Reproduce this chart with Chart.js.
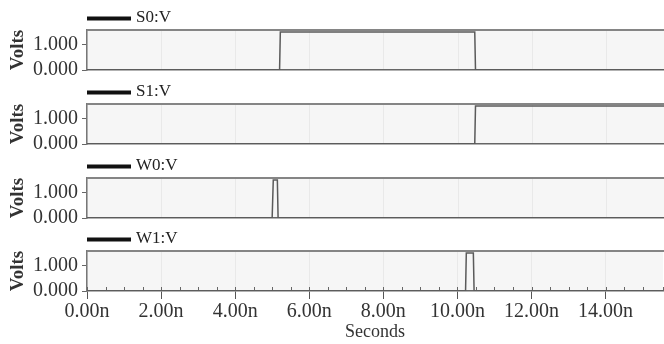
<!DOCTYPE html>
<html>
<head>
<meta charset="utf-8">
<script src="https://cdn.jsdelivr.net/npm/chart.js@4.4.1/dist/chart.umd.min.js"></script>
<style>
  html, body { margin: 0; padding: 0; background: #fff; overflow: hidden; width: 664px; height: 344px; }
  .panel { position: absolute; left: 0; }
</style>
</head>
<body>
<canvas class="panel" id="p0" width="664" height="86" style="top:0px"></canvas>
<canvas class="panel" id="p1" width="664" height="86" style="top:74px"></canvas>
<canvas class="panel" id="p2" width="664" height="86" style="top:148px"></canvas>
<canvas class="panel" id="p3" width="664" height="123" style="top:221px"></canvas>
<script>
// signal names (one panel each)
const seriesNames = ['S0:V', 'S1:V', 'W0:V', 'W1:V'];

// time points in ns, and voltage at each point
const s0Time  = [0, 5.19, 5.21, 10.45, 10.47, 15.6];
const s0Volts = [0, 0,    1.5,  1.5,   0,     0];

const s1Time  = [0, 10.45, 10.47, 15.6];
const s1Volts = [0, 0,     1.5,   1.5];

const w0Time  = [0, 4.99, 5.02, 5.13, 5.15, 15.6];
const w0Volts = [0, 0,    1.5,  1.5,  0,    0];

const w1Time  = [0, 10.22, 10.24, 10.43, 10.45, 15.6];
const w1Volts = [0, 0,     1.5,   1.5,   0,     0];

const voltTicks = [0, 0.5, 1];
const voltLabels = ['0.000', '', '1.000'];
const timeMax = 15.55;
const voltMax = 1.58;

const serif = 'Liberation Serif';

const isMajor = v => Math.abs(v / 2 - Math.round(v / 2)) < 1e-6;

// plot background, top border, small ticks and the legend line
const panelPlugin = {
  id: 'panel',
  beforeDraw(chart) {
    const a = chart.chartArea, ctx = chart.ctx;
    ctx.save();
    ctx.fillStyle = '#f6f6f6';
    ctx.fillRect(a.left, a.top, a.right - a.left, a.bottom - a.top);
    ctx.restore();
  },
  beforeDatasetsDraw(chart) {
    const a = chart.chartArea, ctx = chart.ctx;
    ctx.save();
    ctx.strokeStyle = '#858585';
    ctx.lineWidth = 2;
    ctx.beginPath();
    ctx.moveTo(a.left, a.top);
    ctx.lineTo(a.right + 2, a.top);
    ctx.stroke();
    if (chart.options.showAxis) {
      const xs = chart.scales.x;
      ctx.strokeStyle = '#666';
      ctx.lineWidth = 1;
      xs.ticks.forEach(t => {
        const px = Math.round(xs.getPixelForValue(t.value)) + 0.5;
        ctx.beginPath();
        ctx.moveTo(px, a.bottom - 4);
        ctx.lineTo(px, a.bottom);
        ctx.stroke();
      });
    }
    ctx.restore();
  },
  afterDraw(chart) {
    const a = chart.chartArea, ctx = chart.ctx;
    ctx.save();
    ctx.strokeStyle = '#111';
    ctx.lineWidth = 4;
    ctx.beginPath();
    ctx.moveTo(a.left, 18.5);
    ctx.lineTo(a.left + 44, 18.5);
    ctx.stroke();
    ctx.fillStyle = '#222';
    ctx.font = '17px "' + serif + '"';
    ctx.textBaseline = 'middle';
    ctx.fillText(chart.data.datasets[0].label, a.left + 49, 18);
    ctx.restore();
  }
};

function makePanel(id, name, times, volts, showAxis) {
  const points = times.map((t, i) => ({ x: t, y: volts[i] }));
  return new Chart(document.getElementById(id), {
    type: 'line',
    data: {
      datasets: [{
        label: name,
        data: points,
        borderColor: '#5a5a5a',
        borderWidth: 1.5,
        pointRadius: 0,
        tension: 0,
        fill: false
      }]
    },
    options: {
      showAxis: showAxis,
      responsive: false,
      animation: false,
      events: [],
      layout: { padding: { top: 30, right: 0, bottom: showAxis ? 0 : 16, left: 0 } },
      plugins: { legend: { display: false }, tooltip: { enabled: false } },
      scales: {
        x: {
          type: 'linear',
          min: 0,
          max: timeMax,
          afterFit: s => { s.height = showAxis ? 53 : 0; },
          ticks: {
            display: showAxis,
            stepSize: 0.5,
            autoSkip: false,
            maxRotation: 0,
            padding: 1,
            color: '#333',
            font: { family: serif, size: 20 },
            callback: v => isMajor(v) ? v.toFixed(2) + 'n' : ''
          },
          grid: {
            drawTicks: showAxis,
            tickLength: 8,
            color: c => isMajor(c.tick.value) ? '#e9e9e9' : 'transparent',
            tickColor: c => isMajor(c.tick.value) ? '#555' : 'transparent'
          },
          border: { display: true, color: '#666', width: 1.5 },
          title: {
            display: showAxis,
            text: 'Seconds',
            color: '#333',
            font: { family: serif, size: 18 },
            padding: { top: 0, bottom: 1 }
          }
        },
        y: {
          min: 0,
          max: voltMax,
          afterFit: s => {
            s.width = 87;
            s.paddingTop = 0;
            s.paddingBottom = 0;
          },
          afterBuildTicks: s => { s.ticks = voltTicks.map(v => ({ value: v })); },
          ticks: {
            padding: 4,
            color: '#333',
            font: { family: serif, size: 20 },
            callback: (v, i) => voltLabels[i]
          },
          grid: { drawOnChartArea: false, tickLength: 5, tickColor: '#666' },
          border: { display: true, color: '#777', width: 1.5 },
          title: {
            display: true,
            text: 'Volts',
            color: '#333',
            font: { family: serif, size: 19, weight: 'bold' },
            padding: { top: 7, bottom: 0 }
          }
        }
      }
    },
    plugins: [panelPlugin]
  });
}

makePanel('p0', seriesNames[0], s0Time, s0Volts, false);
makePanel('p1', seriesNames[1], s1Time, s1Volts, false);
makePanel('p2', seriesNames[2], w0Time, w0Volts, false);
makePanel('p3', seriesNames[3], w1Time, w1Volts, true);
</script>
</body>
</html>
